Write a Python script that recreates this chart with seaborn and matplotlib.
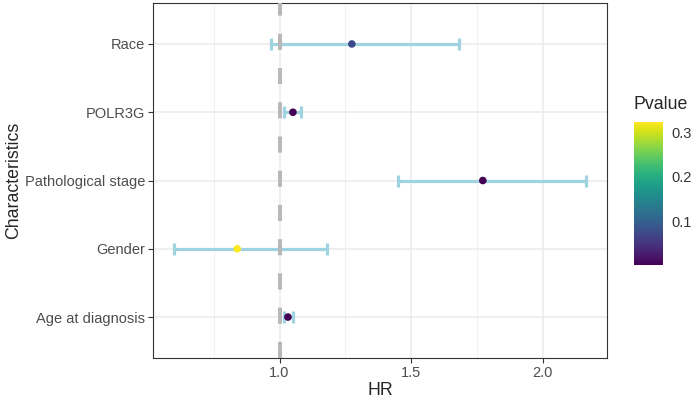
import numpy as np
import pandas as pd
import seaborn as sns
import matplotlib.pyplot as plt
from matplotlib.colors import Normalize
from matplotlib.cm import ScalarMappable

# Forest plot data (bottom to top)
characteristics = ['Age at diagnosis', 'Gender', 'Pathological stage', 'POLR3G', 'Race']
hr = [1.032, 0.839, 1.773, 1.051, 1.275]
hr_low = [1.016, 0.597, 1.451, 1.018, 0.966]
hr_high = [1.051, 1.181, 2.166, 1.082, 1.684]
pvalue = [0.002, 0.323, 0.001, 0.001, 0.072]

df = pd.DataFrame({'Characteristics': characteristics, 'HR': hr,
                   'low': hr_low, 'high': hr_high, 'Pvalue': pvalue})

sns.set_theme(style='whitegrid')
plt.rcParams['font.family'] = ['Liberation Sans', 'DejaVu Sans']

fig = plt.figure(figsize=(6.94, 4.01), dpi=100)
ax = fig.add_axes([0.2205, 0.1072, 0.6541, 0.8853])

ypos = np.arange(len(df))

# Error bars
ax.errorbar(df['HR'], ypos, xerr=[df['HR'] - df['low'], df['high'] - df['HR']],
            fmt='none', ecolor='#9fd3e0', elinewidth=2.3, capsize=4.6,
            capthick=2.3, zorder=2)

# Reference line
ax.axvline(1, color='#b8b8b8', lw=2.9, linestyle=(0, (4, 4.5)), zorder=3)

# Points coloured by p value
norm = Normalize(vmin=min(pvalue), vmax=max(pvalue))
sns.scatterplot(x=df['HR'], y=ypos, hue=df['Pvalue'], palette='viridis',
                hue_norm=norm, s=30, linewidth=0, legend=False, ax=ax, zorder=4)

# Axes styling (ggplot theme_bw look)
ax.set_xlim(0.519, 2.245)
ax.set_ylim(-0.6, len(df) - 0.4)
ax.set_yticks(ypos)
ax.set_yticklabels(characteristics)
ax.set_xticks([1.0, 1.5, 2.0])
ax.set_xticklabels(['1.0', '1.5', '2.0'])
ax.set_xticks([0.75, 1.25, 1.75], minor=True)
ax.grid(True, which='major', color='#ebebeb', lw=1.1)
ax.grid(True, which='minor', axis='x', color='#f0f0f0', lw=0.7)
ax.set_axisbelow(True)
for sp in ax.spines.values():
    sp.set_color('#333333')
    sp.set_linewidth(0.8)
ax.tick_params(axis='both', which='major', length=3.5, width=0.8, color='#333333',
               labelsize=10.5, labelcolor='#4d4d4d', pad=2, left=True, bottom=True)
ax.tick_params(axis='x', which='minor', length=0)
ax.set_xlabel('HR', fontsize=12.8, labelpad=2)
ax.set_ylabel('Characteristics', fontsize=12.8, labelpad=2)

# Colour bar legend
cax = fig.add_axes([0.9135, 0.3392, 0.0418, 0.3566])
sm = ScalarMappable(norm=norm, cmap='viridis')
cbar = fig.colorbar(sm, cax=cax, ticks=[0.1, 0.2, 0.3])
cbar.outline.set_visible(False)
cbar.ax.tick_params(direction='in', color='white', length=3, width=0.8,
                    left=True, right=True, labelsize=10.5, labelcolor='#333333', pad=6)
cbar.ax.set_yticklabels(['0.1', '0.2', '0.3'])
cax.set_title('Pvalue', fontsize=12.8, loc='left', pad=9)

fig.savefig('out.png', dpi=100)
